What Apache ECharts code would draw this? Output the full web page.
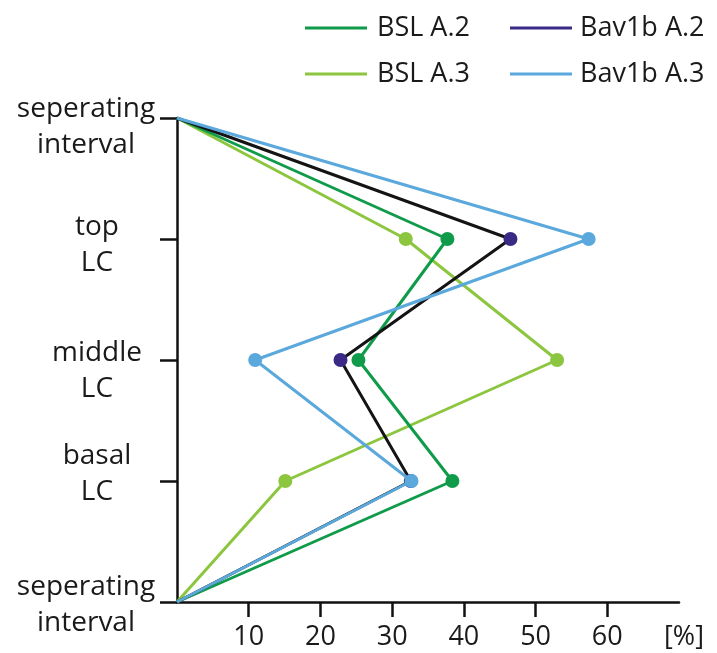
<!DOCTYPE html>
<html>
<head>
<meta charset="utf-8">
<script src="https://cdn.jsdelivr.net/npm/echarts@6/dist/echarts.min.js"></script>
<style>
html,body{margin:0;padding:0;background:#fff;}
#chart{width:717px;height:653px;}
</style>
</head>
<body>
<div id="chart"></div>
<script>
// Categories (top to bottom)
const layers = ['seperating\ninterval', 'top\nLC', 'middle\nLC', 'basal\nLC', 'seperating\ninterval'];
// Percent values per layer (separating intervals = 0)
const bslA2   = [0, 37.7, 25.3, 38.4, 0];
const bslA3   = [0, 31.9, 53.0, 15.1, 0];
const bavA2   = [0, 46.5, 22.8, 32.6, 0];
const bavA3   = [0, 57.4, 10.9, 32.7, 0];
const xTicks  = [10, 20, 30, 40, 50, 60];

const FONT = 'Open Sans';
const C = {
  bslA2: '#0f9b4a',
  bslA3: '#8cc63f',
  bavA2: '#3a2a86',
  bavA2Line: '#141414',
  bavA3: '#5aa8dc'
};

// per-label vertical shift (px, + = down) and horizontal shift (px, + = left)
const labelShiftY = [9, 6, 11, -7, 3];
const labelShiftX = [11, 0, 0, 0, 11];

const rich = {};
layers.forEach((l, i) => {
  const dy = labelShiftY[i], dx = labelShiftX[i];
  rich['r' + i] = {
    fontFamily: FONT, fontSize: 28, lineHeight: 36, color: '#1a1a1a', align: 'center',
    padding: [dy > 0 ? 2 * dy : 0, 2 * dx, dy < 0 ? -2 * dy : 0, 0]
  };
});

function pts(vals) { return vals.map((v, i) => [v, i]); }

function lineSeries(name, vals, color, lineColor, z) {
  return {
    name: name,
    type: 'line',
    data: pts(vals),
    z: z,
    symbol: 'circle',
    symbolSize: (val, p) => (p.dataIndex === 0 || p.dataIndex === vals.length - 1) ? 0 : 14,
    showSymbol: true,
    itemStyle: { color: color },
    lineStyle: { color: lineColor, width: 3 },
    emphasis: { disabled: true },
    animation: false
  };
}

const chart = echarts.init(document.getElementById('chart'));
chart.setOption({
  backgroundColor: '#ffffff',
  animation: false,
  legend: [
    {
      orient: 'vertical', left: 300, top: 8,
      icon: 'rect', itemWidth: 62, itemHeight: 3, itemGap: 16,
      textStyle: { fontFamily: FONT, fontSize: 27, color: '#1a1a1a', lineHeight: 30, padding: [0, 0, 0, 5] },
      data: [
        { name: 'BSL A.2', itemStyle: { color: C.bslA2 } },
        { name: 'BSL A.3', itemStyle: { color: C.bslA3 } }
      ],
      selectedMode: false
    },
    {
      orient: 'vertical', left: 505, top: 8,
      icon: 'rect', itemWidth: 62, itemHeight: 3, itemGap: 16,
      textStyle: { fontFamily: FONT, fontSize: 27, color: '#1a1a1a', lineHeight: 30, padding: [0, 0, 0, 3] },
      data: [
        { name: 'Bav1b A.2', itemStyle: { color: C.bavA2 } },
        { name: 'Bav1b A.3', itemStyle: { color: C.bavA3 } }
      ],
      selectedMode: false
    }
  ],
  grid: { left: 177, right: 38, top: 118, bottom: 51, outerBoundsMode: 'none', containLabel: false },
  xAxis: {
    type: 'value', min: 0, max: 70, interval: 10,
    splitLine: { show: false },
    axisLine: { show: true, lineStyle: { color: '#111', width: 2.5 } },
    axisTick: { show: true, customValues: xTicks, length: 15, lineStyle: { color: '#111', width: 2.5 } },
    axisLabel: { customValues: xTicks, margin: 22, fontFamily: FONT, fontSize: 27, color: '#1a1a1a' },
    name: '[%]', nameLocation: 'end', nameGap: 5,
    nameTextStyle: { fontFamily: FONT, fontSize: 27, color: '#1a1a1a', align: 'center', verticalAlign: 'top', padding: [22, 0, 0, 0] }
  },
  yAxis: {
    type: 'category', inverse: true, boundaryGap: false,
    data: layers,
    axisLine: { show: true, lineStyle: { color: '#111', width: 2.5 } },
    axisTick: { show: true, alignWithLabel: true, length: 17, lineStyle: { color: '#111', width: 2.5 } },
    axisLabel: {
      margin: 80, align: 'center', interval: 0,
      fontFamily: FONT, fontSize: 28, lineHeight: 36, color: '#1a1a1a',
      formatter: (v, i) => v.split('\n').map(p => '{r' + i + '|' + p + '}').join('\n'),
      rich: rich
    },
    splitLine: { show: false }
  },
  series: [
    lineSeries('BSL A.3', bslA3, C.bslA3, C.bslA3, 2),
    lineSeries('BSL A.2', bslA2, C.bslA2, C.bslA2, 3),
    lineSeries('Bav1b A.2', bavA2, C.bavA2, C.bavA2Line, 4),
    lineSeries('Bav1b A.3', bavA3, C.bavA3, C.bavA3, 5)
  ]
});
</script>
</body>
</html>
